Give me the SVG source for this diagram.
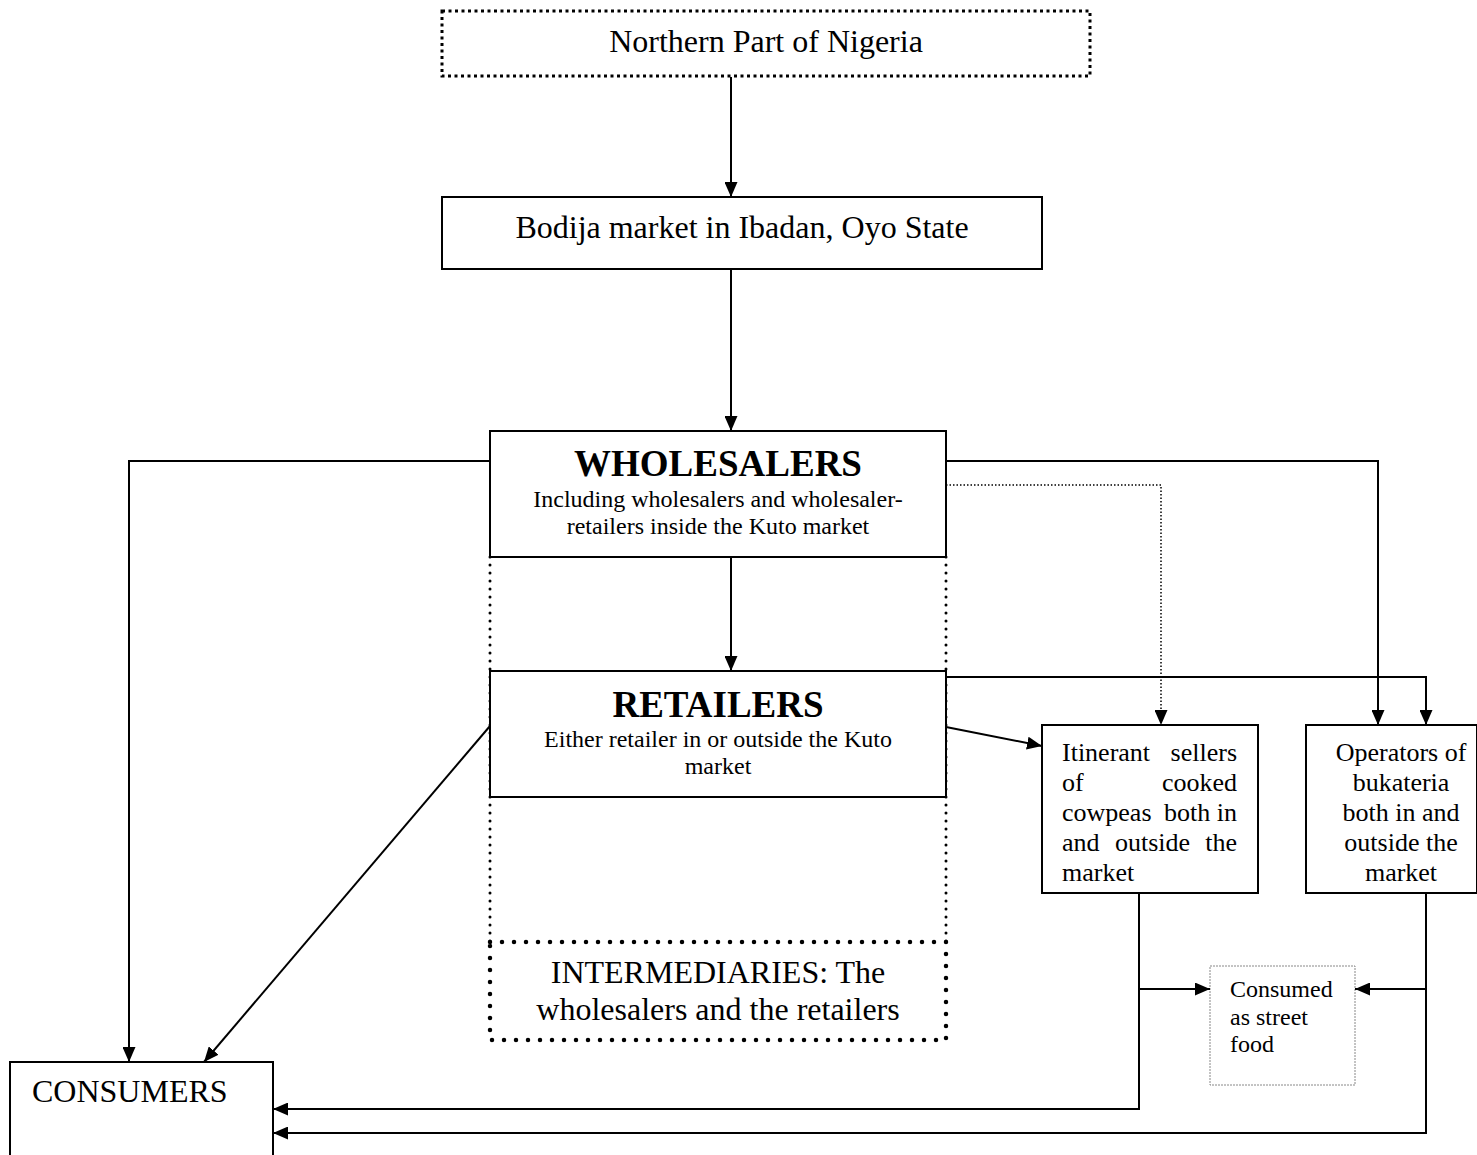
<svg xmlns="http://www.w3.org/2000/svg" width="1477" height="1155" viewBox="0 0 1477 1155">
<style>
text{font-family:"Liberation Serif","Times New Roman",serif;fill:#000}
.box{fill:#fff;stroke:#000;stroke-width:2}
.ln{fill:none;stroke:#000;stroke-width:2}
.big{font-size:32px}
.ttl{font-size:37px;font-weight:bold}
.sub{font-size:24px}
.mid{font-size:26px}
.sm{font-size:24px}
.c{text-anchor:middle}
.e{text-anchor:end}
</style>
<defs>
<marker id="ah" viewBox="0 0 15 13" refX="15" refY="6.5" markerWidth="15" markerHeight="13" markerUnits="userSpaceOnUse" orient="auto">
<path d="M0,0 L15,6.5 L0,13 Z" fill="#000"/>
</marker>
</defs>

<g id="intermediaries-frame">
<path d="M490,557 V942 M946,557 V942" fill="none" stroke="#000" stroke-width="3" stroke-linecap="round" stroke-dasharray="0 8"/>
</g>

<g id="northern">
<rect x="442" y="11" width="648" height="65" fill="#fff" stroke="#000" stroke-width="3" stroke-dasharray="3 3.5"/>
<text class="big c" x="766" y="52">Northern Part of Nigeria</text>
</g>

<g id="bodija">
<rect class="box" x="442" y="197" width="600" height="72"/>
<text class="big c" x="742" y="238">Bodija market in Ibadan, Oyo State</text>
</g>

<g id="wholesalers">
<rect class="box" x="490" y="431" width="456" height="126"/>
<text class="ttl c" x="718" y="476">WHOLESALERS</text>
<text class="sub c" x="718" y="507">Including wholesalers and wholesaler-</text>
<text class="sub c" x="718" y="534">retailers inside the Kuto market</text>
</g>

<g id="retailers">
<rect class="box" x="490" y="671" width="456" height="126"/>
<text class="ttl c" x="718" y="717">RETAILERS</text>
<text class="sub c" x="718" y="747">Either retailer in or outside the Kuto</text>
<text class="sub c" x="718" y="774">market</text>
</g>

<g id="intermediaries">
<rect x="490" y="942" width="456" height="98" fill="none" stroke="#000" stroke-width="4.5" stroke-linecap="round" stroke-dasharray="0 12"/>
<text class="big c" x="718" y="983">INTERMEDIARIES: The</text>
<text class="big c" x="718" y="1020">wholesalers and the retailers</text>
</g>

<g id="itinerant">
<rect class="box" x="1042" y="725" width="216" height="168"/>
<text class="mid" x="1062" y="761">Itinerant</text>
<text class="mid e" x="1237" y="761">sellers</text>
<text class="mid" x="1062" y="791">of</text>
<text class="mid e" x="1237" y="791">cooked</text>
<text class="mid" x="1062" y="821">cowpeas</text>
<text class="mid" x="1164" y="821">both</text>
<text class="mid e" x="1237" y="821">in</text>
<text class="mid" x="1062" y="851">and</text>
<text class="mid" x="1115" y="851">outside</text>
<text class="mid e" x="1237" y="851">the</text>
<text class="mid" x="1062" y="881">market</text>
</g>

<g id="operators">
<rect class="box" x="1306" y="725" width="171" height="168"/>
<text class="mid c" x="1401" y="761">Operators of</text>
<text class="mid c" x="1401" y="791">bukateria</text>
<text class="mid c" x="1401" y="821">both in and</text>
<text class="mid c" x="1401" y="851">outside the</text>
<text class="mid c" x="1401" y="881">market</text>
</g>

<g id="streetfood">
<rect x="1210" y="966" width="145" height="119" fill="#fff" stroke="#888" stroke-width="1" stroke-dasharray="2 1"/>
<text class="sm" x="1230" y="997">Consumed</text>
<text class="sm" x="1230" y="1025">as street</text>
<text class="sm" x="1230" y="1052">food</text>
</g>

<g id="consumers">
<rect class="box" x="10" y="1062" width="263" height="110"/>
<text class="big" x="32" y="1102">CONSUMERS</text>
</g>

<g id="connectors">
<path class="ln" d="M731,77 V197" marker-end="url(#ah)"/>
<path class="ln" d="M731,269 V431" marker-end="url(#ah)"/>
<path class="ln" d="M731,557 V671" marker-end="url(#ah)"/>
<path class="ln" d="M490,461 H129 V1062" marker-end="url(#ah)"/>
<path class="ln" d="M490,726 L204,1062" marker-end="url(#ah)"/>
<path class="ln" d="M946,461 H1378 V725" marker-end="url(#ah)"/>
<path class="ln" d="M946,677 H1426 V725" marker-end="url(#ah)"/>
<path fill="none" stroke="#000" stroke-width="1.5" stroke-dasharray="1.5 2" d="M946,485 H1161 V725" marker-end="url(#ah)"/>
<path class="ln" d="M946,727 L1042,746" marker-end="url(#ah)"/>
<path class="ln" d="M1139,893 V1109 H273" marker-end="url(#ah)"/>
<path class="ln" d="M1139,989 H1210" marker-end="url(#ah)"/>
<path class="ln" d="M1426,893 V1133 H273" marker-end="url(#ah)"/>
<path class="ln" d="M1426,989 H1355" marker-end="url(#ah)"/>
</g>
</svg>
